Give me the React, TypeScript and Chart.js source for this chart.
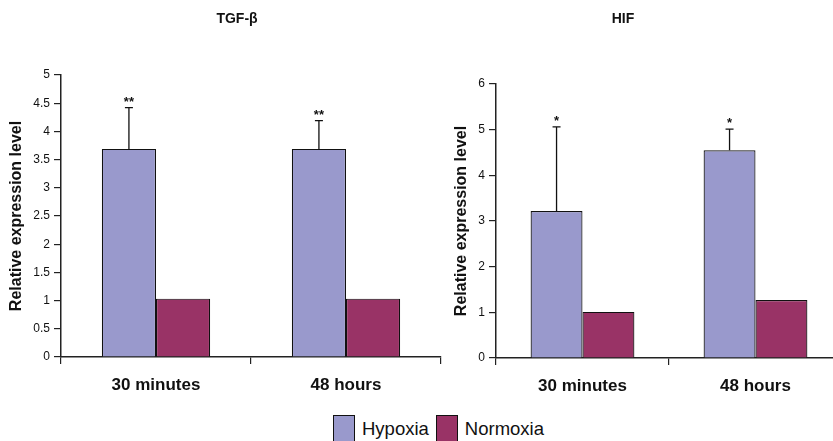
import React, { useEffect, useRef } from "react";
import { Chart, registerables } from "chart.js";

Chart.register(...registerables);

const categories = ["30 minutes", "48 hours"];
const seriesNames = ["Hypoxia", "Normoxia"];
const seriesColors = ["#9999CC", "#993366"];

const tgfTitle = "TGF-β";
const tgfHypoxia = [3.69, 3.69];
const tgfHypoxiaErr = [0.73, 0.5];
const tgfNormoxia = [1.035, 1.035];
const tgfStars = ["**", "**"];
const tgfMax = 5;
const tgfStep = 0.5;

const hifTitle = "HIF";
const hifHypoxia = [3.22, 4.55];
const hifHypoxiaErr = [1.84, 0.46];
const hifNormoxia = [1.01, 1.27];
const hifStars = ["*", "*"];
const hifMax = 6;
const hifStep = 1;

const yAxisTitle = "Relative expression level";
const FONT = '"Liberation Sans", Arial, Helvetica, sans-serif';

const errorBarPlugin = {
  id: "errorBars",
  afterDatasetsDraw(chart: any) {
    const ctx = chart.ctx;
    const yScale = chart.scales.y;
    chart.data.datasets.forEach((ds: any, i: number) => {
      if (!ds.errors) return;
      const meta = chart.getDatasetMeta(i);
      meta.data.forEach((bar: any, j: number) => {
        const v = ds.data[j];
        const e = ds.errors[j];
        const x = bar.x;
        const yTop = bar.y;
        const yErr = yScale.getPixelForValue(v + e);
        ctx.save();
        ctx.strokeStyle = "#111";
        ctx.lineWidth = 1.3;
        ctx.beginPath();
        ctx.moveTo(x, yTop);
        ctx.lineTo(x, yErr);
        ctx.moveTo(x - 4, yErr);
        ctx.lineTo(x + 4, yErr);
        ctx.stroke();
        if (ds.stars && ds.stars[j]) {
          ctx.fillStyle = "#111";
          ctx.font = `bold 13px ${FONT}`;
          ctx.textAlign = "center";
          ctx.textBaseline = "alphabetic";
          ctx.fillText(ds.stars[j], x, yErr - 2);
        }
        ctx.restore();
      });
    });
  },
};

const panelTitlePlugin = {
  id: "panelTitle",
  afterDraw(chart: any) {
    const o = chart.options.plugins.panelTitle;
    if (!o || !o.text) return;
    const ctx = chart.ctx;
    ctx.save();
    ctx.fillStyle = "#111";
    ctx.font = `bold 14px ${FONT}`;
    ctx.textAlign = "center";
    ctx.textBaseline = "middle";
    ctx.fillText(o.text, o.x, o.y);
    ctx.restore();
  },
};

type PanelProps = {
  title: string;
  titleX: number;
  hyp: number[];
  hypErr: number[];
  norm: number[];
  stars: string[];
  yMax: number;
  yStep: number;
  left: number;
  width: number;
  yWidth: number;
  yTitlePad: number;
  padRight: number;
  areaTop: number;
  areaBottom: number;
  catPct: number;
};

function Panel(p: PanelProps) {
  const ref = useRef<HTMLCanvasElement | null>(null);
  useEffect(() => {
    if (!ref.current) return;
    const height = 400;
    const chart = new Chart(ref.current, {
      type: "bar",
      data: {
        labels: categories,
        datasets: [
          {
            label: seriesNames[0],
            data: p.hyp,
            backgroundColor: seriesColors[0],
            borderColor: "#111",
            borderWidth: 1.2,
            barPercentage: 1,
            categoryPercentage: p.catPct,
            errors: p.hypErr,
            stars: p.stars,
          } as any,
          {
            label: seriesNames[1],
            data: p.norm,
            backgroundColor: seriesColors[1],
            borderColor: "#111",
            borderWidth: 1.2,
            barPercentage: 1,
            categoryPercentage: p.catPct,
          } as any,
        ],
      },
      options: {
        responsive: false,
        animation: false,
        layout: { padding: { left: 0, right: p.padRight, top: p.areaTop, bottom: 0 } },
        plugins: {
          legend: { display: false },
          tooltip: { enabled: false },
          title: { display: false },
          panelTitle: { text: p.title, x: p.titleX, y: 19 },
        } as any,
        scales: {
          x: {
            grid: {
              display: true,
              drawOnChartArea: false,
              offset: true,
              tickLength: 7,
              color: "#222",
              lineWidth: 1.2,
            },
            border: { display: true, color: "#222", width: 1.5 },
            ticks: {
              color: "#111",
              padding: 11,
              maxRotation: 0,
              autoSkip: false,
              font: { family: FONT, size: 17, weight: "bold" },
            },
            afterFit: (s: any) => {
              s.height = height - p.areaBottom;
            },
          },
          y: {
            min: 0,
            max: p.yMax,
            ticks: {
              stepSize: p.yStep,
              color: "#111",
              padding: 4,
              font: { family: FONT, size: 12 },
              callback: (v: any) => String(v),
            },
            grid: {
              display: true,
              drawOnChartArea: false,
              tickLength: 7,
              color: "#222",
              lineWidth: 1.2,
            },
            border: { display: true, color: "#222", width: 1.5 },
            title: {
              display: true,
              text: yAxisTitle,
              color: "#111",
              font: { family: FONT, size: 16, weight: "bold" },
              padding: { top: p.yTitlePad, bottom: 0 },
            },
            afterFit: (s: any) => {
              s.width = p.yWidth;
            },
          },
        },
      },
      plugins: [errorBarPlugin, panelTitlePlugin],
    });
    return () => chart.destroy();
  }, []);
  return (
    <canvas
      ref={ref}
      width={p.width}
      height={400}
      style={{ position: "absolute", left: p.left, top: 0, width: p.width, height: 400 }}
    />
  );
}

export default function App() {
  useEffect(() => {
    document.body.style.margin = "0";
  }, []);
  return (
    <div
      style={{
        position: "fixed",
        left: 0,
        top: 0,
        width: 833,
        height: 441,
        overflow: "hidden",
        background: "#fff",
        fontFamily: FONT,
      }}
    >
      <Panel
        title={tgfTitle}
        titleX={237}
        hyp={tgfHypoxia}
        hypErr={tgfHypoxiaErr}
        norm={tgfNormoxia}
        stars={tgfStars}
        yMax={tgfMax}
        yStep={tgfStep}
        left={0}
        width={474}
        yWidth={61}
        yTitlePad={7}
        padRight={33}
        areaTop={75}
        areaBottom={357}
        catPct={0.57}
      />
      <Panel
        title={hifTitle}
        titleX={219}
        hyp={hifHypoxia}
        hypErr={hifHypoxiaErr}
        norm={hifNormoxia}
        stars={hifStars}
        yMax={hifMax}
        yStep={hifStep}
        left={404}
        width={438}
        yWidth={92}
        yTitlePad={48}
        padRight={0}
        areaTop={84}
        areaBottom={358}
        catPct={0.6}
      />
      <div
        style={{
          position: "absolute",
          left: 333,
          top: 415,
          display: "flex",
          alignItems: "flex-start",
          fontSize: 18.5,
          color: "#111",
          whiteSpace: "nowrap",
        }}
      >
        {seriesNames.map((n, i) => (
          <div key={n} style={{ display: "flex", alignItems: "flex-start", marginRight: i === 0 ? 7 : 0 }}>
            <div
              style={{
                width: 22,
                height: 28,
                background: seriesColors[i],
                border: "1px solid #111",
                boxSizing: "border-box",
              }}
            />
            <div style={{ marginLeft: 7, marginTop: 4, lineHeight: "20px" }}>{n}</div>
          </div>
        ))}
      </div>
    </div>
  );
}
